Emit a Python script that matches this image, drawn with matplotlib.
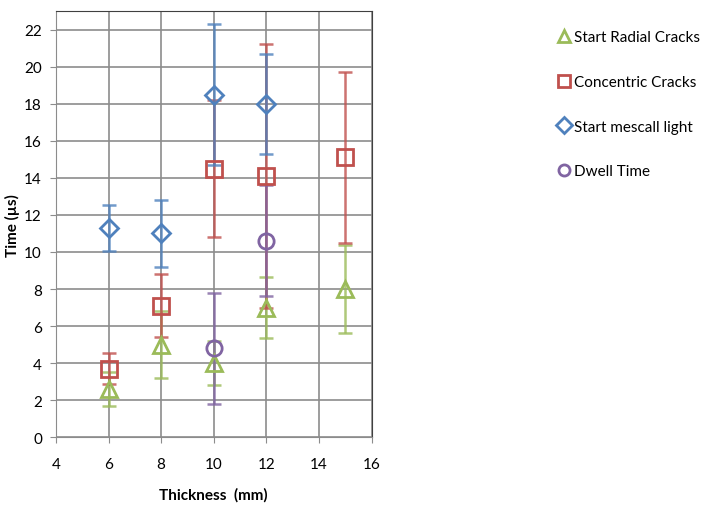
import matplotlib.pyplot as plt

# Thickness (mm) for each series
x_radial = [6, 8, 10, 12, 15]
x_concentric = [6, 8, 10, 12, 15]
x_mescall = [6, 8, 10, 12]
x_dwell = [10, 12]

# Times (us) and error sizes
radial = [2.6, 5.0, 4.0, 7.0, 8.0]
radial_err = [0.9, 1.8, 1.2, 1.65, 2.4]

concentric = [3.7, 7.1, 14.5, 14.1, 15.1]
concentric_err = [0.85, 1.7, 3.7, 7.1, 4.6]

mescall = [11.3, 11.0, 18.5, 18.0]
mescall_err = [1.25, 1.8, 3.8, 2.7]

dwell = [4.8, 10.6]
dwell_err = [3.0, 3.0]

plt.rcParams['font.family'] = ['Lato', 'DejaVu Sans']

fig = plt.figure(figsize=(7.26, 5.06), dpi=100)
ax = fig.add_axes([0.077, 0.134, 0.435, 0.842])

series = [
    (x_radial, radial, radial_err, '^', '#9BBB59', 'Start Radial Cracks'),
    (x_concentric, concentric, concentric_err, 's', '#C0504D', 'Concentric Cracks'),
    (x_mescall, mescall, mescall_err, 'D', '#4F81BD', 'Start mescall light'),
    (x_dwell, dwell, dwell_err, 'o', '#8064A2', 'Dwell Time'),
]

for xs, ys, es, m, c, lab in series:
    ax.errorbar(xs, ys, yerr=es, fmt='none', ecolor=c, elinewidth=1.8,
                capsize=5, capthick=1.8, alpha=0.8, zorder=2)
    ms = 9 if m == 'D' else 11
    ax.plot(xs, ys, linestyle='none', marker=m, markersize=ms,
            markerfacecolor='none', markeredgecolor=c,
            markeredgewidth=2, zorder=3)

ax.set_xlim(4, 16)
ax.set_ylim(0, 23)
ax.set_xticks(range(4, 17, 2))
ax.set_yticks(range(0, 23, 2))
ax.grid(True, color='#8c8c8c', linewidth=1.2)
ax.set_axisbelow(True)
for s in ['left', 'bottom']:
    ax.spines[s].set_color('#8c8c8c')
for s in ['top', 'right']:
    ax.spines[s].set_color('#404040')
ax.tick_params(labelsize=11, color='#8c8c8c', length=4)
ax.tick_params(axis='x', pad=10)
ax.tick_params(axis='y', pad=6)

ax.set_xlabel('Thickness  (mm)', fontsize=11, fontweight='bold', labelpad=12)
ax.set_ylabel('Time (µs)', fontsize=11, fontweight='bold', labelpad=3)

leg_handles = []
for xs, ys, es, m, c, lab in series:
    h, = ax.plot([], [], linestyle='none', marker=m, markersize=8,
                 markerfacecolor='none', markeredgecolor=c,
                 markeredgewidth=2, label=lab)
    leg_handles.append(h)
fig.legend(handles=leg_handles, loc='upper left', bbox_to_anchor=(0.745, 0.965),
           frameon=False, fontsize=11, labelspacing=2.0, handletextpad=0.1,
           handlelength=1.2)

fig.savefig('out.png', dpi=100)
